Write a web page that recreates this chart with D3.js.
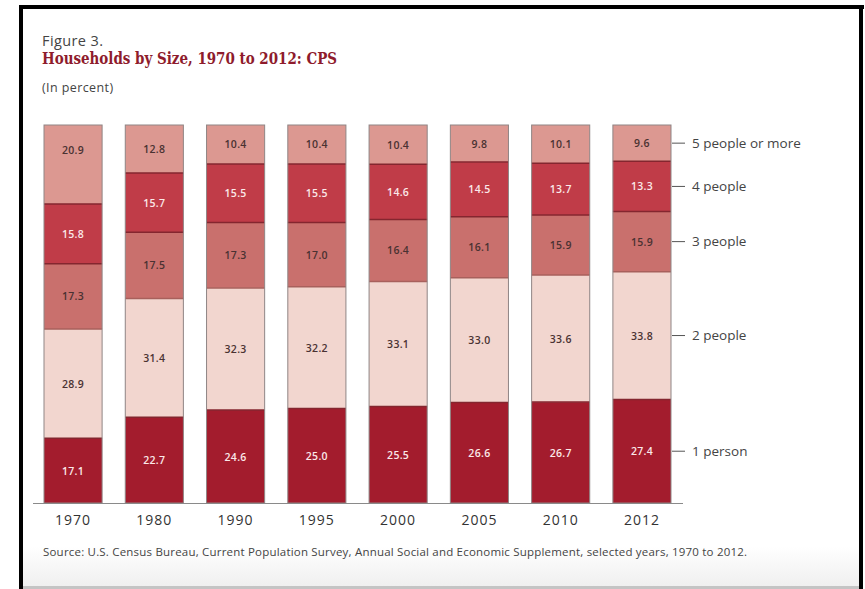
<!DOCTYPE html>
<html>
<head>
<meta charset="utf-8">
<script src="https://cdn.jsdelivr.net/npm/d3@7.9.0/dist/d3.min.js"></script>
<style>
  body { margin: 0; background: #fff; }
  svg { display: block; }
</style>
</head>
<body>
<svg id="chart" width="865" height="589"></svg>
<script>
// data
const years = ['1970', '1980', '1990', '1995', '2000', '2005', '2010', '2012'];
const sizes = ['1 person', '2 people', '3 people', '4 people', '5 people or more'];
const onePerson = [17.1, 22.7, 24.6, 25.0, 25.5, 26.6, 26.7, 27.4];
const twoPeople = [28.9, 31.4, 32.3, 32.2, 33.1, 33.0, 33.6, 33.8];
const threePeople = [17.3, 17.5, 17.3, 17.0, 16.4, 16.1, 15.9, 15.9];
const fourPeople = [15.8, 15.7, 15.5, 15.5, 14.6, 14.5, 13.7, 13.3];
const fivePlus = [20.9, 12.8, 10.4, 10.4, 10.4, 9.8, 10.1, 9.6];

const series = [onePerson, twoPeople, threePeople, fourPeople, fivePlus];
const fills = ['#a31c2d', '#f2d6cf', '#c9706d', '#c03c48', '#dc9891'];
const textCols = ['#fbe9e9', '#4a3232', '#4a3232', '#fbe9e9', '#4a3232'];

const sans = '"Open Sans", sans-serif';

let rows = years.map((y, i) => {
  let r = { year: y };
  sizes.forEach((s, k) => r[s] = series[k][i]);
  return r;
});

const svg = d3.select('#chart');

// frame, like the scanned page
let grad = svg.append('defs').append('linearGradient')
  .attr('id', 'bg').attr('x1', 0).attr('y1', 0).attr('x2', 0).attr('y2', 1);
grad.append('stop').attr('offset', '0.93').attr('stop-color', '#ffffff');
grad.append('stop').attr('offset', '1').attr('stop-color', '#efefef');
svg.append('rect').attr('x', 21).attr('y', 7).attr('width', 840).attr('height', 580)
  .attr('fill', 'url(#bg)');
svg.append('rect').attr('x', 21).attr('y', 586).attr('width', 840).attr('height', 3).attr('fill', '#c4c4c4');
svg.append('rect').attr('x', 19).attr('y', 5).attr('width', 4).attr('height', 584).attr('fill', '#000');
svg.append('rect').attr('x', 19).attr('y', 5).attr('width', 845).attr('height', 4).attr('fill', '#000');
svg.append('rect').attr('x', 859).attr('y', 5).attr('width', 4).attr('height', 584).attr('fill', '#000');

// titles
svg.append('text').attr('x', 42).attr('y', 46)
  .attr('font-family', sans).attr('font-size', 14.5).attr('letter-spacing', 0.4).attr('fill', '#444')
  .text('Figure 3.');
svg.append('text').attr('x', 42).attr('y', 64)
  .attr('font-family', '"DejaVu Serif Condensed", "DejaVu Serif", serif').attr('font-stretch', 'condensed')
  .attr('font-weight', 'bold')
  .attr('font-size', 16.5).attr('fill', '#8e1b2c')
  .attr('textLength', 295).attr('lengthAdjust', 'spacingAndGlyphs')
  .text('Households by Size, 1970 to 2012: CPS');
svg.append('text').attr('x', 42).attr('y', 92)
  .attr('font-family', sans).attr('font-size', 12.5).attr('letter-spacing', 0.4).attr('fill', '#444')
  .text('(In percent)');

// scales
let x = d3.scaleBand().domain(years).range([44, 671]).paddingInner(0.285).paddingOuter(0);
let y = d3.scaleLinear().domain([0, 100]).range([503, 125]);

let stack = d3.stack().keys(sizes);
let layers = stack(rows);

let g = svg.append('g');
layers.forEach((layer, k) => {
  g.selectAll(null).data(layer).enter().append('rect')
    .attr('x', d => x(d.data.year))
    .attr('y', d => y(Math.min(d[1], 100)))
    .attr('width', x.bandwidth())
    .attr('height', d => y(d[0]) - y(Math.min(d[1], 100)))
    .attr('fill', fills[k]);
});

// dividing lines between segments
layers.slice(0, 4).forEach((layer, k) => {
  g.selectAll(null).data(layer).enter().append('line')
    .attr('x1', d => x(d.data.year)).attr('x2', d => x(d.data.year) + x.bandwidth())
    .attr('y1', d => y(d[1])).attr('y2', d => y(d[1]))
    .attr('stroke', k == 1 ? '#a8605c' : '#84262f').attr('stroke-width', 1.5);
});

// bar outlines
g.selectAll(null).data(years).enter().append('rect')
  .attr('x', d => x(d)).attr('y', y(100))
  .attr('width', x.bandwidth()).attr('height', y(0) - y(100))
  .attr('fill', 'none').attr('stroke', '#8f8585').attr('stroke-width', 1);

// value labels
layers.forEach((layer, k) => {
  g.selectAll(null).data(layer).enter().append('text')
    .attr('x', d => x(d.data.year) + x.bandwidth() / 2)
    .attr('y', d => {
      let top = y(Math.min(d[1], 100)), mid = (y(d[0]) + top) / 2;
      return (k == 4 ? Math.min(mid, top + 25) : mid) + 4;
    })
    .attr('text-anchor', 'middle')
    .attr('font-family', sans).attr('font-weight', 600)
    .attr('font-size', 10.5).attr('letter-spacing', 0.3)
    .attr('fill', textCols[k])
    .text(d => (d[1] - d[0]).toFixed(1));
});

// x axis
svg.append('line').attr('x1', 33).attr('x2', 683).attr('y1', y(0) + 0.5).attr('y2', y(0) + 0.5)
  .attr('stroke', '#8a8a8a').attr('stroke-width', 1);
svg.selectAll('.yr').data(years).enter().append('text')
  .attr('x', d => x(d) + x.bandwidth() / 2).attr('y', 525)
  .attr('text-anchor', 'middle')
  .attr('font-family', sans).attr('font-size', 14).attr('letter-spacing', 1)
  .attr('fill', '#333')
  .text(d => d);

// series labels beside the last bar
let last = years[years.length - 1];
let lx = x(last) + x.bandwidth();
layers.forEach((layer, k) => {
  let d = layer[layer.length - 1];
  let cy = (y(d[0]) + y(Math.min(d[1], 100))) / 2;
  svg.append('line').attr('x1', lx + 1).attr('x2', lx + 14).attr('y1', cy).attr('y2', cy)
    .attr('stroke', '#555').attr('stroke-width', 1);
  svg.append('text').attr('x', lx + 21).attr('y', cy + 4.5)
    .attr('font-family', sans).attr('font-size', 13.5).attr('fill', '#444')
    .text(sizes[k]);
});

// source
svg.append('text').attr('x', 43).attr('y', 556)
  .attr('font-family', sans).attr('font-size', 11.5).attr('letter-spacing', 0.2).attr('fill', '#444')
  .text('Source: U.S. Census Bureau, Current Population Survey, Annual Social and Economic Supplement, selected years, 1970 to 2012.');
</script>
</body>
</html>
